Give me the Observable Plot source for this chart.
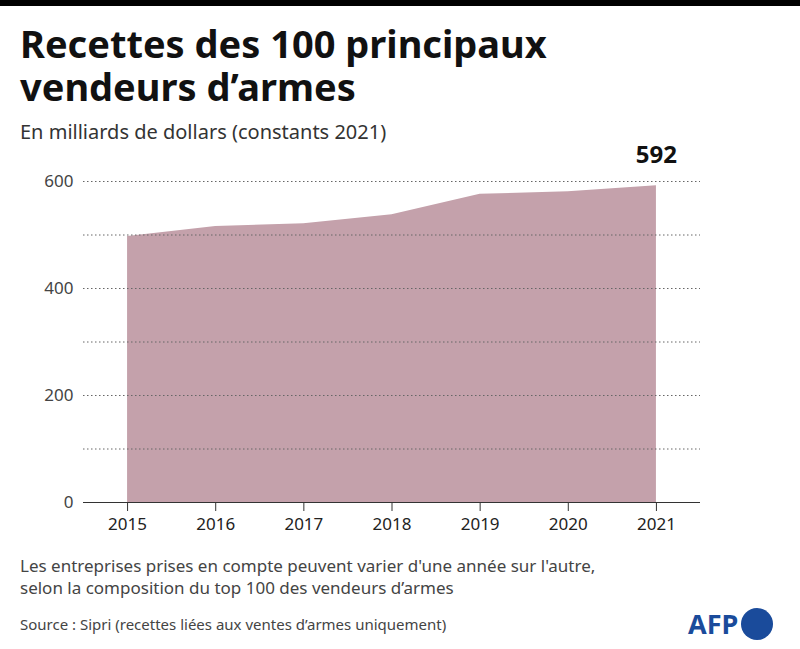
<!DOCTYPE html>
<html><head><meta charset="utf-8">
<script src="https://cdn.jsdelivr.net/npm/d3@7"></script>
<script src="https://cdn.jsdelivr.net/npm/@observablehq/plot@0.6"></script>
<style>
body{margin:0;width:800px;height:649px;overflow:hidden;font-family:"Source Sans Pro","Noto Sans",sans-serif;background:#fff;position:relative}
#bar{height:6px;background:#000}
.t{margin:0;position:absolute;left:20px;font-size:38px;line-height:38px;font-weight:700;color:#111;letter-spacing:0px}
#sub{position:absolute;left:20px;top:118px;font-size:20px;color:#333}
#chart{position:absolute;left:0;top:130px}
#note{position:absolute;left:20px;top:555px;font-size:17px;line-height:22px;color:#444}
#src{position:absolute;left:20px;top:614px;font-size:15px;color:#444}
#afp{position:absolute;left:688px;top:605px;font-size:27px;font-weight:700;color:#1a4b9b;display:flex;align-items:center;gap:3px}
#afp span.c{display:inline-block;width:32px;height:32px;border-radius:50%;background:#1a4b9b}
</style></head><body>
<div id="bar"></div>
<div class="t" style="top:24px">Recettes des 100 principaux</div>
<div class="t" style="top:67px">vendeurs d’armes</div>
<div id="sub">En milliards de dollars (constants 2021)</div>
<div id="chart"></div>
<div id="note">Les entreprises prises en compte peuvent varier d'une année sur l'autre,<br>selon la composition du top 100 des vendeurs d’armes</div>
<div id="src">Source :  Sipri (recettes liées aux ventes d’armes uniquement)</div>
<div id="afp">AFP<span class="c"></span></div>
<script>
const years=[2015,2016,2017,2018,2019,2020,2021];
const values=[497,516,521,538,576,581,592];
const yTicks=[0,200,400,600];
const gridTicks=[100,200,300,400,500,600];
const data=years.map((y,i)=>({year:y,value:values[i]}));
const chart=Plot.plot({
  width:800,height:410,marginTop:51,marginBottom:38,marginLeft:83,marginRight:100,
  style:{fontFamily:"'Source Sans Pro','Noto Sans',sans-serif",fontSize:"17px",color:"#222"},
  x:{domain:[2014.5,2021.5],axis:null},
  y:{domain:[0,600],axis:null},
  marks:[
    Plot.areaY(data,{x:"year",y:"value",fill:"#c4a1ab"}),
    Plot.ruleY(gridTicks,{stroke:"#666",strokeDasharray:"1.5,2.5",strokeWidth:1}),
    Plot.ruleY([0],{stroke:"#333"}),
    Plot.axisX(years,{tickSize:9,tickPadding:6,tickFormat:d=>String(d),fontSize:17,stroke:"#333",fill:"#222",label:null}),
    Plot.text(yTicks,{x:2014.5,y:d=>d,dx:-10,textAnchor:"end",text:d=>String(d),fontSize:17,fill:"#444"}),
    Plot.text([data[6]],{x:"year",y:"value",dy:-30,text:d=>String(d.value),fontSize:24,fontWeight:"bold",fill:"#111"})
  ]
});
document.getElementById("chart").appendChild(chart);
</script>
</body></html>
